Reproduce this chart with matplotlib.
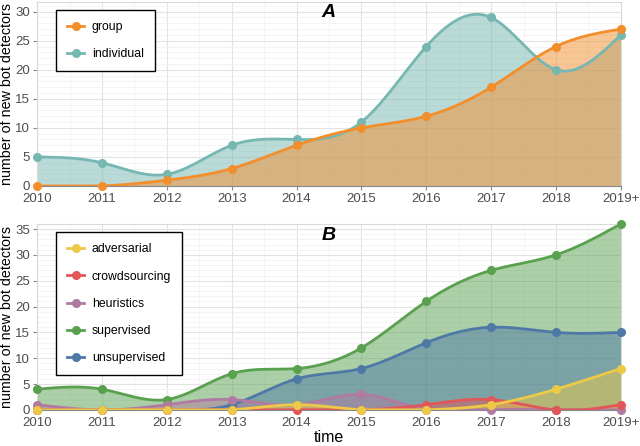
import numpy as np
import matplotlib.pyplot as plt
from matplotlib.lines import Line2D
from matplotlib.ticker import MultipleLocator

plt.rcParams['font.family'] = ['Liberation Sans', 'DejaVu Sans']

years = ["2010", "2011", "2012", "2013", "2014", "2015", "2016", "2017", "2018", "2019+"]

# panel A
group = [0, 0, 1, 3, 7, 10, 12, 17, 24, 27]
individual = [5, 4, 2, 7, 8, 11, 24, 29, 20, 26]

# panel B
adversarial = [0, 0, 0, 0, 1, 0, 0, 1, 4, 8]
crowdsourcing = [0, 0, 0, 0, 0, 0, 1, 2, 0, 1]
heuristics = [1, 0, 1, 2, 1, 3, 0, 0, 0, 0]
supervised = [4, 4, 2, 7, 8, 12, 21, 27, 30, 36]
unsupervised = [0, 0, 0, 1, 6, 8, 13, 16, 15, 15]

colors = {
    "group": "#F28E2B", "individual": "#76B7B2",
    "adversarial": "#EDC948", "crowdsourcing": "#E15759", "heuristics": "#B07AA1",
    "supervised": "#59A14F", "unsupervised": "#4E79A7",
}


def natural_spline(y, n=40):
    """Natural cubic spline through equally spaced points (for the smooth look)."""
    y = np.asarray(y, dtype=float)
    k = len(y)
    A = np.zeros((k, k))
    b = np.zeros(k)
    A[0, 0] = A[-1, -1] = 1
    for i in range(1, k - 1):
        A[i, i - 1:i + 2] = [1, 4, 1]
        b[i] = 6 * (y[i + 1] - 2 * y[i] + y[i - 1])
    m = np.linalg.solve(A, b)
    xs, ys = [], []
    for i in range(k - 1):
        t = np.linspace(0, 1, n, endpoint=False)
        yi = ((1 - t) * y[i] + t * y[i + 1]
              + ((1 - t) ** 3 - (1 - t)) * m[i] / 6 + (t ** 3 - t) * m[i + 1] / 6)
        xs.append(i + t)
        ys.append(yi)
    xs.append([k - 1])
    ys.append([y[-1]])
    return np.concatenate(xs), np.concatenate(ys)


def draw_series(ax, vals, name):
    c = colors[name]
    xs, ys = natural_spline(vals)
    ys = np.clip(ys, 0, None)
    ax.fill_between(xs, 0, ys, color=c, alpha=0.5, lw=0)
    ax.plot(xs, ys, color=c, lw=2)
    ax.plot(range(len(vals)), vals, 'o', color=c, ms=5.5, clip_on=False, zorder=3)


def add_legend(ax, names):
    handles = [Line2D([], [], color=colors[n], lw=2, marker='o', ms=5.5) for n in names]
    leg = ax.legend(handles, names, loc='upper left', bbox_to_anchor=(0.033, 0.955),
                    fontsize=8.8, frameon=True, fancybox=False, handlelength=1.4,
                    handletextpad=0.6, labelspacing=1.25, borderpad=0.9,
                    borderaxespad=0, framealpha=1)
    leg.get_frame().set_edgecolor('black')
    leg.get_frame().set_linewidth(1.0)


def style_axes(ax, ymax, label):
    ax.set_xlim(0, 9)
    ax.set_ylim(0, ymax)
    ax.set_xticks(range(len(years)))
    ax.set_xticklabels(years)
    ax.xaxis.set_minor_locator(MultipleLocator(0.5))
    ax.yaxis.set_major_locator(MultipleLocator(5))
    ax.yaxis.set_minor_locator(MultipleLocator(1))
    ax.grid(which='major', color='#e3e3e3', lw=0.8)
    ax.grid(which='minor', color='#f0f0f0', lw=0.5)
    ax.set_axisbelow(True)
    for s in ax.spines.values():
        s.set_color('#d9d9d9')
        s.set_linewidth(0.8)
    ax.spines['bottom'].set_color('#888888')
    ax.tick_params(which='major', length=3, color='#888888', labelsize=9.5,
                   labelcolor='#4d4d4d', pad=2)
    ax.tick_params(which='minor', length=0)
    ax.set_ylabel("number of new bot detectors", fontsize=10.3)
    ax.yaxis.set_label_coords(-0.04, 0.5)
    ax.text(0.5, 0.94, label, transform=ax.transAxes, ha='center', va='center',
            fontsize=14, fontweight='bold', fontstyle='italic')


fig = plt.figure(figsize=(6.4, 4.46), dpi=100)
axA = fig.add_axes([0.058, 0.583, 0.912, 0.413])
axB = fig.add_axes([0.058, 0.081, 0.912, 0.417])

draw_series(axA, individual, "individual")
draw_series(axA, group, "group")
style_axes(axA, 31.7, "A")
add_legend(axA, ["group", "individual"])

draw_series(axB, supervised, "supervised")
draw_series(axB, unsupervised, "unsupervised")
draw_series(axB, heuristics, "heuristics")
draw_series(axB, crowdsourcing, "crowdsourcing")
draw_series(axB, adversarial, "adversarial")
style_axes(axB, 36, "B")
add_legend(axB, ["adversarial", "crowdsourcing", "heuristics", "supervised", "unsupervised"])
axB.set_xlabel("time", fontsize=11.5, labelpad=1)

fig.savefig("out.png", dpi=100)
